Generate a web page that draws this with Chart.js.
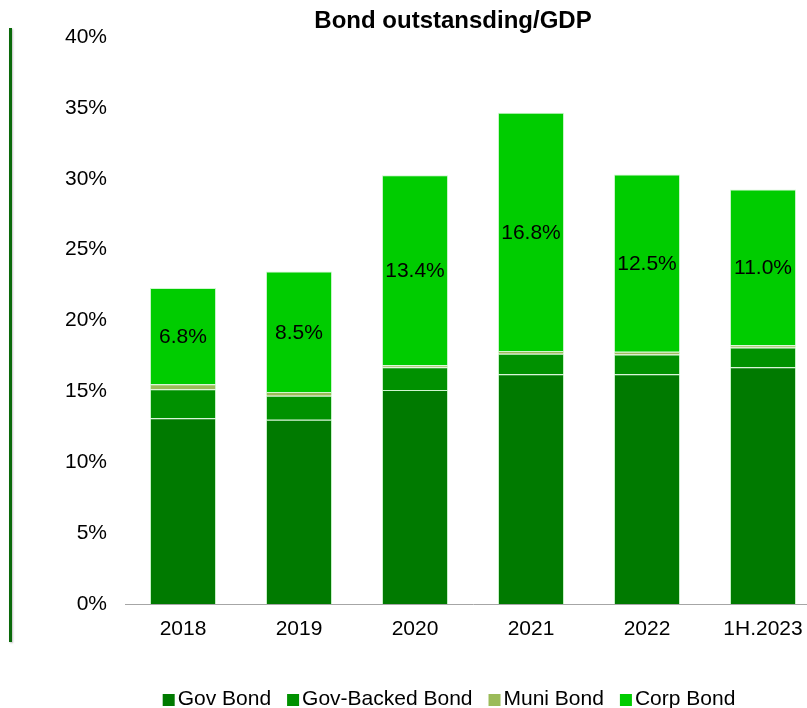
<!DOCTYPE html>
<html>
<head>
<meta charset="utf-8">
<script src="https://cdn.jsdelivr.net/npm/chart.js@4.4.0/dist/chart.umd.min.js"></script>
<style>
  html, body { margin: 0; padding: 0; background: #fff; overflow: hidden; }
  #wrap { position: relative; width: 822px; height: 708px; }
  #bondChart { position: absolute; left: 0; top: 0; }
  #sideBar { position: absolute; left: 9px; top: 28px; width: 3px; height: 614px;
             background: #0a690a; box-shadow: 1px 1px 2px rgba(0,0,0,0.25); }
</style>
</head>
<body>
<div id="wrap">
  <canvas id="bondChart" width="822" height="708"></canvas>
  <div id="sideBar"></div>
</div>
<script>
// dữ liệu (% GDP)
const categories = ['2018', '2019', '2020', '2021', '2022', '1H.2023'];
const govBond       = [13.1, 13.0, 15.1, 16.2, 16.2, 16.7];
const govBackedBond = [2.05, 1.7, 1.6, 1.45, 1.4, 1.4];
const muniBond      = [0.35, 0.25, 0.15, 0.2, 0.2, 0.15];
const corpBond      = [6.8, 8.5, 13.4, 16.8, 12.5, 11.0];
const yTicks = [0, 5, 10, 15, 20, 25, 30, 35, 40];

const FONT = '"Liberation Sans", Arial, sans-serif';
Chart.defaults.font.family = FONT;
Chart.defaults.color = '#000';

// title, nhãn Corp Bond và legend vẽ tay
const customText = {
    id: 'customText',
    afterDatasetsDraw(chart) {
        const ctx = chart.ctx;
        const meta = chart.getDatasetMeta(3);
        ctx.save();
        ctx.font = '21px ' + FONT;
        ctx.fillStyle = '#000';
        ctx.textAlign = 'center';
        ctx.textBaseline = 'middle';
        meta.data.forEach((bar, i) => {
            ctx.fillText(corpBond[i].toFixed(1) + '%', bar.x, (bar.y + bar.base) / 2 + 1);
        });
        ctx.restore();
    },
    afterDraw(chart) {
        const ctx = chart.ctx;
        ctx.save();
        // title
        ctx.font = 'bold 24px ' + FONT;
        ctx.fillStyle = '#000';
        ctx.textAlign = 'center';
        ctx.textBaseline = 'alphabetic';
        ctx.fillText('Bond outstansding/GDP', 453, 28);

        // legend
        ctx.font = '21px ' + FONT;
        const box = 12, gap = 3, spacing = 16;
        const items = chart.data.datasets.map(ds => ({
            label: ds.label, color: ds.backgroundColor,
            w: ctx.measureText(ds.label).width
        }));
        const total = items.reduce((s, it) => s + box + gap + it.w, 0) + spacing * (items.length - 1);
        let x = 449 - total / 2;
        const yMid = 699;
        ctx.textAlign = 'left';
        ctx.textBaseline = 'middle';
        items.forEach(it => {
            ctx.fillStyle = it.color;
            ctx.fillRect(x, yMid - box / 2 + 1, box, box);
            x += box + gap;
            ctx.fillStyle = '#000';
            ctx.fillText(it.label, x, yMid);
            x += it.w + spacing;
        });
        ctx.restore();
    }
};

const ctx = document.getElementById('bondChart').getContext('2d');
new Chart(ctx, {
    type: 'bar',
    data: {
        labels: categories,
        datasets: [
            { label: 'Gov Bond', data: govBond, backgroundColor: '#007a00' },
            { label: 'Gov-Backed Bond', data: govBackedBond, backgroundColor: '#009100' },
            { label: 'Muni Bond', data: muniBond, backgroundColor: '#9bbb59' },
            { label: 'Corp Bond', data: corpBond, backgroundColor: '#00cc00' }
        ]
    },
    options: {
        responsive: false,
        animation: false,
        layout: { padding: { top: 37, right: 1, bottom: 60, left: 0 } },
        datasets: {
            bar: {
                categoryPercentage: 1,
                barPercentage: 0.57,
                borderWidth: 1,
                borderColor: 'rgba(120,230,120,0.35)'
            }
        },
        plugins: {
            legend: { display: false },
            title: { display: false },
            tooltip: { enabled: false }
        },
        scales: {
            x: {
                stacked: true,
                grid: { display: false, drawTicks: false },
                border: { display: true, color: '#a6a6a6', width: 1 },
                ticks: { font: { size: 21 }, color: '#000', padding: 13, maxRotation: 0 },
                afterFit: s => { s.height = 44; }
            },
            y: {
                stacked: true,
                min: 0,
                max: 40,
                grid: { display: false, drawTicks: false },
                border: { display: false },
                afterBuildTicks: s => { s.ticks = yTicks.map(v => ({ value: v })); },
                ticks: { font: { size: 21 }, color: '#000', padding: 18, callback: v => v + '%' },
                afterFit: s => { s.width = 125; }
            }
        }
    },
    plugins: [customText]
});
</script>
</body>
</html>
